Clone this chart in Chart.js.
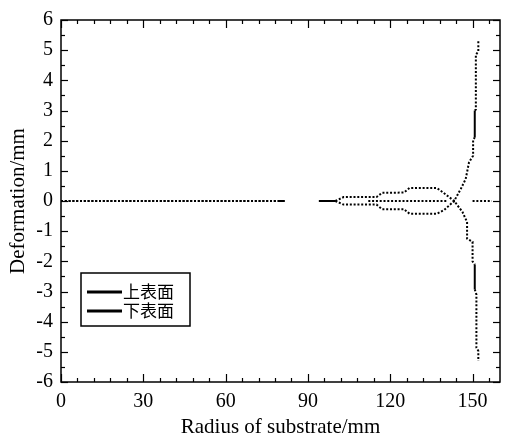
<!DOCTYPE html>
<html><head><meta charset="utf-8">
<script src="https://cdn.jsdelivr.net/npm/chart.js@4/dist/chart.umd.min.js"></script>
<style>html,body{margin:0;padding:0;background:#fff}</style></head><body>
<canvas id="c" width="506" height="442"></canvas>
<script>
const seriesNames = ['上表面', '下表面'];
const xTickLabels = [0, 30, 60, 90, 120, 150];
const yTickLabels = [-6, -5, -4, -3, -2, -1, 0, 1, 2, 3, 4, 5, 6];

// 上表面 (upper surface)
const upperX = [0, 79, 81.5, 88, 94, 100, 103, 115, 117, 125, 127, 137, 139, 143.3, 145.7, 147.5, 148.7, 150.2, 150.2, 150.8, 150.8, 151.2, 151.2, 152.1, 152.1];
const upperY = [0, 0, 0, null, 0, 0, 0.13, 0.13, 0.27, 0.28, 0.43, 0.43, 0.3, 0, 0.4, 0.73, 1.28, 1.5, 2.04, 2.1, 3.0, 3.03, 4.84, 4.97, 5.3];
// 下表面 (lower surface)
const lowerX = [0, 79, 81.5, 88, 94, 100, 103, 115, 117, 125, 127, 137, 139.6, 143.3, 146.3, 148, 148, 150, 150, 150.8, 150.8, 151.4, 151.4, 152.1, 152.1];
const lowerY = [0, 0, 0, null, 0, 0, -0.12, -0.12, -0.27, -0.27, -0.42, -0.42, -0.3, 0, -0.36, -0.7, -1.25, -1.35, -2.0, -2.1, -2.93, -3.1, -4.86, -4.97, -5.3];
// mid-plane dotted points
const midX = [112, 141, 145, 150, 157];
const midY = [0, 0, null, 0, 0];

const solidUpper = [1, 4, 19];
const solidLower = [1, 4, 19];

function pts(xs, ys) { return xs.map((x, i) => ({ x: x, y: ys[i] })); }

const DOT = [2, 1.8];
function ds(label, data, solid) {
  return {
    label: label, data: data, showLine: true, borderColor: '#000', backgroundColor: '#000',
    borderWidth: 2, borderDash: DOT, pointRadius: 0, spanGaps: false,
    segment: { borderDash: ctx => solid.includes(ctx.p0DataIndex) ? [] : DOT }
  };
}

const frame = {
  id: 'frame',
  afterDraw(chart) {
    const { ctx, chartArea: a, scales: { x, y } } = chart;
    ctx.save();
    ctx.strokeStyle = '#000';
    ctx.lineWidth = 1.5;
    ctx.strokeRect(a.left, a.top, a.right - a.left, a.bottom - a.top);
    ctx.lineWidth = 1.2;
    const ln = (x1, y1, x2, y2) => { ctx.beginPath(); ctx.moveTo(x1, y1); ctx.lineTo(x2, y2); ctx.stroke(); };
    for (let v = 0; v <= 160; v += 6) {
      const px = Math.round(x.getPixelForValue(v)) + 0.5;
      const L = xTickLabels.includes(v) ? 8 : 4;
      ln(px, a.bottom, px, a.bottom - L);
      ln(px, a.top, px, a.top + L);
    }
    for (let v = -6; v <= 6; v += 0.5) {
      const py = Math.round(y.getPixelForValue(v)) + 0.5;
      const L = Number.isInteger(v) ? 7 : 4;
      ln(a.left, py, a.left + L, py);
      ln(a.right, py, a.right - L, py);
    }
    // legend box
    const bx = a.left + 20, by = a.top + 253, bw = 109, bh = 53;
    ctx.lineWidth = 1.5;
    ctx.strokeRect(bx, by, bw, bh);
    ctx.font = '17px "Noto Sans CJK SC"';
    ctx.fillStyle = '#000';
    ctx.textBaseline = 'middle';
    seriesNames.forEach((n, i) => {
      const ly = by + 19 + i * 19;
      ctx.lineWidth = 3;
      ln(bx + 6, ly, bx + 41, ly);
      ctx.fillText(n, bx + 42, ly);
    });
    ctx.restore();
  }
};

new Chart(document.getElementById('c'), {
  type: 'scatter',
  data: {
    datasets: [
      ds(seriesNames[0], pts(upperX, upperY), solidUpper),
      ds(seriesNames[1], pts(lowerX, lowerY), solidLower),
      ds('mid', pts(midX, midY), [])
    ]
  },
  options: {
    responsive: false, animation: false,
    layout: { padding: { top: 17, right: 6, left: 0, bottom: 0 } },
    plugins: { legend: { display: false }, tooltip: { enabled: false } },
    scales: {
      x: {
        type: 'linear', min: 0, max: 160,
        grid: { display: false, drawTicks: false }, border: { display: false },
        afterBuildTicks: s => { s.ticks = xTickLabels.map(v => ({ value: v })); },
        afterFit: s => { s.height = 60; },
        ticks: { color: '#000', padding: 8, maxRotation: 0, font: { family: '"Liberation Serif"', size: 20 } },
        title: { display: true, text: 'Radius of substrate/mm', color: '#000', padding: { top: 0, bottom: 2 }, font: { family: '"Liberation Serif"', size: 21 } }
      },
      y: {
        type: 'linear', min: -6, max: 6,
        grid: { display: false, drawTicks: false }, border: { display: false },
        afterBuildTicks: s => { s.ticks = yTickLabels.map(v => ({ value: v })); },
        afterFit: s => { s.width = 61; },
        ticks: { color: '#000', padding: 8, font: { family: '"Liberation Serif"', size: 20 } },
        title: { display: true, text: 'Deformation/mm', color: '#000', padding: { top: 6, bottom: 0 }, font: { family: '"Liberation Serif"', size: 21 } }
      }
    }
  },
  plugins: [frame]
});
</script>
</body></html>
